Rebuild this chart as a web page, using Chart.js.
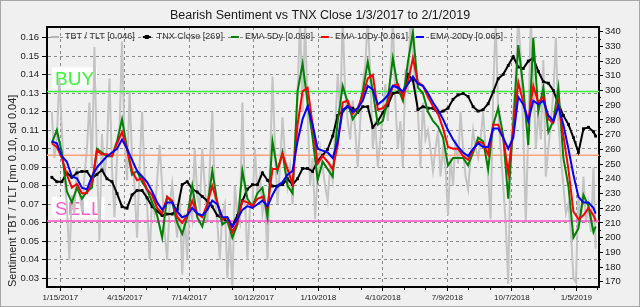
<!DOCTYPE html>
<html>
<head>
<meta charset="utf-8">
<script src="https://cdn.jsdelivr.net/npm/chart.js@4.4.0/dist/chart.umd.min.js"></script>
<style>
html, body { margin: 0; padding: 0; background: #f0f0f0; }
canvas { display: block; }
</style>
</head>
<body>
<canvas id="chart" width="640" height="307"></canvas>
<script>
const FONT = "'Liberation Sans', Arial, sans-serif";
Chart.defaults.font.family = FONT;

// series run from 1/3/2017, weekly (TNX + EMAs) and twice a week (raw ratio), last point 2/1/2019
const startDate = '1/3/2017';
const endDate = '2/1/2019';

const tnxClose = [
  241, 238, 238, 244, 241, 244, 245, 245, 240, 243,
  246, 240, 238, 230, 221, 220, 229, 232, 232, 227,
  221, 218, 215, 216, 216, 219, 236, 238, 233, 231,
  228, 225, 221, 215, 213, 211, 208, 215, 225, 233,
  236, 236, 244, 239, 235, 235, 236, 240, 236, 240,
  247, 247, 245, 252, 256, 260, 269, 283, 286, 289,
  288, 285, 289, 289, 275, 279, 285, 290, 298, 299,
  297, 311, 307, 287, 289, 288, 288, 285, 286, 288,
  294, 297, 298, 296, 289, 286, 287, 291, 299, 308,
  311, 317, 323, 316, 315, 320, 322, 313, 306, 305,
  300, 291, 283, 277, 268, 258, 274, 275, 272, 269
];

const ema5 = [
  .103, .110, .098, .077, .071, .079, .073, .077, .079, .100,
  .098, .096, .096, .104, .116, .100, .086, .088, .082, .078,
  .071, .064, .052, .074, .071, .060, .054, .063, .080, .063,
  .058, .069, .088, .071, .059, .061, .052, .059, .088, .073,
  .069, .076, .079, .063, .104, .088, .098, .080, .076, .131,
  .146, .125, .106, .083, .093, .089, .085, .115, .134, .125,
  .116, .120, .131, .147, .131, .113, .115, .127, .149, .133,
  .126, .147, .163, .133, .130, .120, .115, .112, .106, .091,
  .095, .095, .095, .091, .098, .106, .104, .089, .113, .122,
  .107, .073, .113, .156, .133, .102, .160, .120, .133, .109,
  .115, .133, .095, .080, .052, .057, .075, .069, .055, .058
];

const ema10 = [
  .103, .101, .095, .086, .079, .081, .076, .076, .082, .099,
  .097, .097, .096, .103, .109, .100, .088, .083, .084, .078,
  .075, .068, .065, .074, .072, .063, .060, .064, .072, .065,
  .063, .070, .080, .071, .062, .063, .055, .060, .072, .071,
  .069, .073, .074, .068, .089, .089, .097, .089, .081, .113,
  .131, .133, .113, .092, .096, .093, .089, .102, .125, .126,
  .119, .122, .129, .138, .140, .121, .122, .125, .134, .135,
  .128, .136, .149, .136, .134, .128, .123, .119, .111, .101,
  .100, .100, .096, .094, .099, .104, .103, .097, .113, .113,
  .106, .087, .111, .136, .125, .115, .134, .125, .128, .116,
  .114, .125, .107, .089, .066, .062, .064, .068, .064, .061
];

const ema20 = [
  .104, .103, .096, .093, .085, .084, .079, .078, .085, .090,
  .093, .096, .098, .100, .105, .100, .094, .088, .085, .082,
  .077, .071, .067, .071, .071, .066, .063, .064, .068, .065,
  .064, .067, .072, .070, .063, .063, .058, .062, .067, .069,
  .068, .070, .072, .069, .075, .080, .082, .086, .088, .104,
  .116, .123, .113, .100, .099, .098, .095, .104, .121, .123,
  .120, .122, .126, .134, .132, .124, .126, .129, .134, .133,
  .131, .135, .139, .135, .134, .130, .125, .121, .116, .110,
  .105, .101, .098, .096, .100, .103, .101, .101, .111, .111,
  .106, .100, .106, .128, .124, .115, .126, .124, .126, .118,
  .115, .123, .113, .100, .086, .074, .071, .071, .068, .065
];

const tbtTlt = [
  .120, .095, .105, .138, .110, .085, .070, .040, .075, .065,
  .090, .078, .066, .085, .100, .125, .090, .155, .095, .050,
  .108, .085, .100, .138, .090, .063, .095, .110, .158, .105,
  .083, .131, .095, .080, .052, .090, .120, .085, .070, .040,
  .075, .065, .083, .102, .080, .055, .040, .070, .081, .065,
  .052, .075, .032, .065, .040, .070, .062, .100, .075, .068,
  .100, .080, .060, .090, .120, .075, .060, .040, .065, .070,
  .030, .055, .026, .080, .065, .060, .125, .075, .040, .068,
  .070, .100, .075, .085, .065, .075, .040, .090, .139, .100,
  .070, .090, .117, .095, .080, .090, .070, .100, .130, .170,
  .120, .170, .120, .080, .095, .062, .085, .100, .090, .080,
  .072, .090, .083, .110, .140, .120, .170, .130, .115, .105,
  .126, .110, .090, .115, .135, .145, .170, .140, .100, .115,
  .090, .105, .120, .135, .115, .140, .170, .125, .100, .115,
  .090, .143, .130, .170, .150, .134, .120, .090, .125, .105,
  .110, .100, .088, .100, .110, .085, .100, .090, .064, .095,
  .080, .105, .092, .120, .100, .085, .078, .095, .110, .100,
  .095, .105, .120, .100, .085, .062, .130, .170, .120, .100,
  .080, .060, .027, .100, .120, .140, .170, .150, .110, .060,
  .110, .170, .140, .100, .120, .105, .148, .085, .100, .115,
  .130, .160, .115, .095, .080, .065, .070, .055, .030, .028,
  .075, .060, .085, .060, .070, .055, .090, .046
];

const leftTicks = [0.03, 0.04, 0.05, 0.06, 0.07, 0.08, 0.09, 0.10, 0.11, 0.12, 0.13, 0.14, 0.15, 0.16];
const rightTicks = [170, 180, 190, 200, 210, 220, 230, 240, 250, 260, 270, 280, 290, 300, 310, 320, 330, 340];
const dateTicks = ['1/15/2017', '4/15/2017', '7/14/2017', '10/12/2017', '1/10/2018', '4/10/2018', '7/9/2018', '10/7/2018', '1/5/2019'];

const buyLevel = 0.131;
const meanLevel = 0.0965;
const sellLevel = 0.061;

function dayOf(mdy) {
  const [m, d, y] = mdy.split('/').map(Number);
  const [m0, d0, y0] = startDate.split('/').map(Number);
  return Math.round((Date.UTC(y, m - 1, d) - Date.UTC(y0, m0 - 1, d0)) / 864e5);
}

function toPoints(values, step) {
  const last = dayOf(endDate);
  return values.map((v, i) => ({ x: i === values.length - 1 ? last : i * step, y: v }));
}

const xMin = -6.7, xMax = 763.7;
const levelLine = v => [{ x: xMin, y: v }, { x: xMax, y: v }];

const tickName = {};
dateTicks.forEach(t => { tickName[dayOf(t)] = t; });

const lastOf = a => a[a.length - 1];
const legendItems = [
  { text: 'TBT / TLT [' + lastOf(tbtTlt).toFixed(3) + ']', color: '#b4b4b4' },
  { text: 'TNX Close [' + lastOf(tnxClose) + ']', color: '#000000', marker: true },
  { text: 'EMA 5Dy [' + lastOf(ema5).toFixed(3) + ']', color: '#008000' },
  { text: 'EMA 10Dy [' + lastOf(ema10).toFixed(3) + ']', color: '#ff0000' },
  { text: 'EMA 20Dy [' + lastOf(ema20).toFixed(3) + ']', color: '#0000ff' }
];

const zoneLabels = [
  { text: 'BUY', level: buyLevel, color: '#3cf53c' },
  { text: 'SELL', level: sellLevel, color: '#ff5ccc' }
];

const decorPlugin = {
  id: 'decor',
  beforeDraw(chart) {
    const { ctx, width, height } = chart;
    ctx.save();
    ctx.fillStyle = '#f0f0f0';
    ctx.fillRect(0, 0, width, height);
    ctx.strokeStyle = '#a8a8a8';
    ctx.lineWidth = 1;
    ctx.strokeRect(0.5, 0.5, width - 1, height - 1);
    ctx.restore();
  },
  beforeDatasetsDraw(chart) {
    const { ctx, chartArea, scales } = chart;
    ctx.save();
    ctx.font = '19px ' + FONT;
    ctx.textBaseline = 'alphabetic';
    zoneLabels.forEach(z => {
      const base = scales.y.getPixelForValue(z.level) - 6;
      const x0 = chartArea.left + 8;
      const w = ctx.measureText(z.text).width;
      ctx.fillStyle = '#ffffff';
      ctx.fillRect(x0 - 3, base - 18, w + 6, 21);
      ctx.fillStyle = z.color;
      ctx.fillText(z.text, x0, base);
    });
    ctx.restore();
  },
  afterDatasetsDraw(chart) {
    const { ctx, chartArea } = chart;
    ctx.save();
    // top edge of the plot frame
    ctx.strokeStyle = '#000';
    ctx.lineWidth = 2;
    ctx.beginPath();
    ctx.moveTo(chartArea.left - 1, chartArea.top);
    ctx.lineTo(chartArea.right + 1, chartArea.top);
    ctx.stroke();
    // legend inside the plot
    ctx.font = '9px ' + FONT;
    ctx.textBaseline = 'middle';
    let x = chartArea.left + 4;
    const y = chartArea.top + 10;
    legendItems.forEach(it => {
      ctx.strokeStyle = it.color;
      ctx.lineWidth = 2;
      ctx.beginPath();
      ctx.moveTo(x, y);
      ctx.lineTo(x + 8, y);
      ctx.stroke();
      if (it.marker) {
        ctx.fillStyle = it.color;
        ctx.fillRect(x + 2, y - 2, 4, 4);
      }
      ctx.fillStyle = '#333';
      ctx.fillText(it.text, x + 14, y);
      x += 14 + ctx.measureText(it.text).width + 8;
    });
    ctx.restore();
  }
};

const axisBorder = { display: true, color: '#000', width: 2, dash: [3, 3] };

new Chart(document.getElementById('chart'), {
  type: 'line',
  data: {
    datasets: [
      { label: 'TBT / TLT', data: toPoints(tbtTlt, 3.5), borderColor: '#c4c4c4', borderWidth: 2, pointRadius: 0, yAxisID: 'y', order: 6, clip: 0 },
      { label: 'buy', data: levelLine(buyLevel), borderColor: '#3cf03c', borderWidth: 1.5, pointRadius: 0, yAxisID: 'y', order: 5 },
      { label: 'mean', data: levelLine(meanLevel), borderColor: '#ffa27a', borderWidth: 1.5, pointRadius: 0, yAxisID: 'y', order: 5 },
      { label: 'sell', data: levelLine(sellLevel), borderColor: '#ff4fc8', borderWidth: 1.5, pointRadius: 0, yAxisID: 'y', order: 5 },
      { label: 'TNX Close', data: toPoints(tnxClose, 7), borderColor: '#000', borderWidth: 2, pointStyle: 'rect', pointRadius: 2, pointBackgroundColor: '#000', pointBorderWidth: 0, yAxisID: 'y2', order: 4, clip: 0 },
      { label: 'EMA 5Dy', data: toPoints(ema5, 7), borderColor: '#008000', borderWidth: 2, pointRadius: 0, yAxisID: 'y', order: 3, clip: 0 },
      { label: 'EMA 10Dy', data: toPoints(ema10, 7), borderColor: '#ff0000', borderWidth: 2, pointRadius: 0, yAxisID: 'y', order: 2, clip: 0 },
      { label: 'EMA 20Dy', data: toPoints(ema20, 7), borderColor: '#0000ff', borderWidth: 2, pointRadius: 0, yAxisID: 'y', order: 1, clip: 0 }
    ]
  },
  options: {
    responsive: false,
    animation: false,
    events: [],
    layout: { padding: 0 },
    elements: { line: { tension: 0 } },
    plugins: {
      legend: { display: false },
      tooltip: { enabled: false },
      title: {
        display: true,
        text: 'Bearish Sentiment vs TNX Close ' + startDate + ' to ' + endDate,
        color: '#1a1a1a',
        font: { size: 12.5, weight: 'normal', family: FONT },
        padding: { top: 8, bottom: 4 }
      }
    },
    scales: {
      x: {
        type: 'linear', position: 'bottom', min: xMin, max: xMax, weight: 1,
        afterBuildTicks: s => { s.ticks = dateTicks.map(t => ({ value: dayOf(t) })); },
        ticks: { callback: v => tickName[v] || '', color: '#222', font: { size: 8 }, padding: 2, maxRotation: 0, autoSkip: false },
        grid: { color: '#8a8a8a', lineWidth: 1, tickLength: 4, tickColor: '#000', tickWidth: 1, tickBorderDash: [] },
        border: axisBorder,
        afterFit: s => { s.height = 20; }
      },
      xMinor: {
        type: 'linear', position: 'bottom', min: xMin, max: xMax, weight: 0,
        afterBuildTicks: s => {
          const t = [];
          for (let d = dayOf(dateTicks[0]); d < xMax; d += 30) t.push({ value: d });
          s.ticks = t;
        },
        ticks: { display: false },
        grid: { drawOnChartArea: false, tickLength: 3, tickColor: '#000', tickWidth: 1 },
        border: { display: false },
        afterFit: s => { s.height = 0; }
      },
      y: {
        type: 'linear', position: 'left', min: 0.0253, max: 0.1658,
        afterBuildTicks: s => { s.ticks = leftTicks.map(v => ({ value: v })); },
        ticks: { callback: v => v.toFixed(2), color: '#222', font: { size: 9.5 }, padding: 3, autoSkip: false },
        grid: { color: '#8a8a8a', lineWidth: 1, tickLength: 5, tickColor: '#000', tickWidth: 1, tickBorderDash: [] },
        border: axisBorder,
        title: { display: true, text: 'Sentiment TBT / TLT [mn 0.10, sd 0.04]', color: '#222', font: { size: 11 }, align: 'start', padding: { top: 6, bottom: 0 } },
        afterFit: s => { s.width = 47; }
      },
      y2: {
        type: 'linear', position: 'right', min: 166.4, max: 343.2, weight: 1,
        afterBuildTicks: s => { s.ticks = rightTicks.map(v => ({ value: v })); },
        ticks: { callback: v => String(v), color: '#222', font: { size: 9.5 }, padding: 2, autoSkip: false },
        grid: { drawOnChartArea: false, tickLength: 4, tickColor: '#000', tickWidth: 1 },
        border: { display: true, color: '#000', width: 2 },
        afterFit: s => { s.width = 41; }
      },
      y2Minor: {
        type: 'linear', position: 'right', min: 166.4, max: 343.2, weight: 0,
        afterBuildTicks: s => {
          const t = [];
          for (let v = rightTicks[0]; v <= lastOf(rightTicks); v += 5) t.push({ value: v });
          s.ticks = t;
        },
        ticks: { display: false },
        grid: { drawOnChartArea: false, tickLength: 2, tickColor: '#000', tickWidth: 1 },
        border: { display: false },
        afterFit: s => { s.width = 0; }
      }
    }
  },
  plugins: [decorPlugin]
});
</script>
</body>
</html>
